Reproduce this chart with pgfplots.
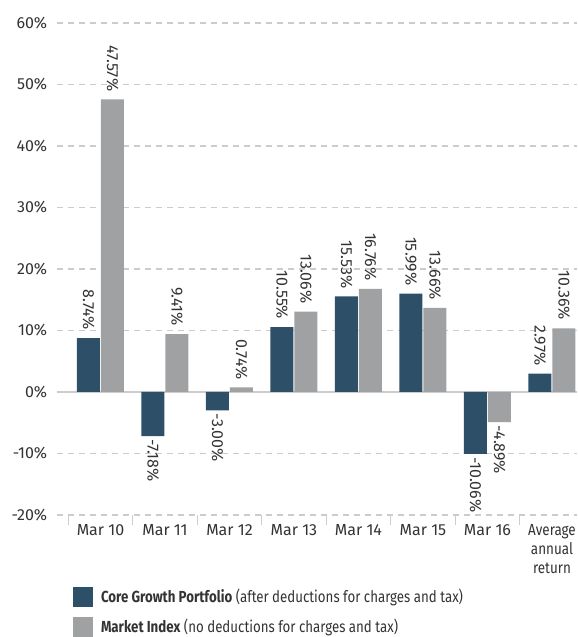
\documentclass[border=0pt]{standalone}
\usepackage{pgfplots}
\pgfplotsset{compat=1.18}
\usepackage{fontspec}
\setmainfont{Fira Sans}
\usepackage{graphicx}
\definecolor{dark}{HTML}{2D5068}
\definecolor{lite}{HTML}{A0A1A3}
\definecolor{txt}{HTML}{333333}
\definecolor{gridc}{HTML}{CCCCCC}
\begin{document}
\fontsize{16}{19}\selectfont
\begin{tikzpicture}
\begin{axis}[
  scale only axis, width=520pt, height=492pt,
  ybar, bar width=23pt,
  xmin=-0.674, xmax=7.388, ymin=-20, ymax=60,
  axis lines*=left, axis line style={draw=none},
  xtick={0,...,7},
  xticklabels={Mar 10,Mar 11,Mar 12,Mar 13,Mar 14,Mar 15,Mar 16,{\scalebox{0.84}[1]{Average}\\\scalebox{0.84}[1]{annual}\\\scalebox{0.84}[1]{return}}},
  xticklabel style={align=center, text=txt, font=\fontsize{16}{19}\selectfont},
  yticklabel style={text=txt, font=\fontsize{16}{19}\selectfont},
  major x tick style={draw=none},
  minor xtick={-0.5,0.5,...,6.5},
  minor x tick style={gridc, line width=1.2pt},
  minor tick length=10pt, tick align=outside,
  ytick={-20,-10,...,60},
  yticklabels={-20\%,-10\%,0\%,10\%,20\%,30\%,40\%,50\%,60\%},
  major y tick style={draw=none},
  ymajorgrids, grid style={gridc, dash pattern=on 6pt off 5pt, line width=1.2pt},
  extra y ticks={0}, extra y tick labels={},
  extra y tick style={grid style={solid, gridc, line width=1.2pt}, major tick style={draw=none}},
  point meta=explicit symbolic,
  nodes near coords,
  visualization depends on={rawy \as \rawy},
  every node near coord/.append style={rotate=-90, text=txt, font=\fontsize{16}{19}\selectfont, inner ysep=0pt},
  every node near coord/.append code={\ifdim\rawy pt<0pt\relax\pgfkeysalso{anchor=west, inner xsep=3pt}\else\pgfkeysalso{anchor=east, inner xsep=8pt}\fi},
  legend image code/.code={\fill[#1,draw=none] (0pt,-10pt) rectangle (20pt,10pt);},
  legend style={at={(0.0308,-0.1463)}, anchor=north west, draw=none, fill=none,
    inner sep=0pt, outer sep=0pt, row sep=10pt, column sep=8pt,
    nodes={inner sep=0pt, text=txt, font=\fontsize{16}{19}\selectfont}},
  legend cell align=left,
]
\addplot[fill=dark, draw=none, bar shift=-12pt] coordinates {
  (0,8.74) [8.74\%]
  (1,-7.18) [-7.18\%]
  (2,-3.00) [-3.00\%]
  (3,10.55) [10.55\%]
  (4,15.53) [15.53\%]
  (5,15.99) [15.99\%]
  (6,-10.06) [-10.06\%]
  (7,2.97) [2.97\%]
};
\addplot[fill=lite, draw=none, bar shift=12pt] coordinates {
  (0,47.57) [47.57\%]
  (1,9.41) [9.41\%]
  (2,0.74) [0.74\%]
  (3,13.06) [13.06\%]
  (4,16.76) [16.76\%]
  (5,13.66) [13.66\%]
  (6,-4.89) [-4.89\%]
  (7,10.36) [10.36\%]
};
\legend{\scalebox{0.83}[1]{\textbf{Core Growth Portfolio} (after deductions for charges and tax)},
        \scalebox{0.83}[1]{\textbf{Market Index} (no deductions for charges and tax)}}
\end{axis}
\pgfresetboundingbox
\path ([shift={(-57pt,23pt)}]current axis.north west) rectangle ([shift={(0pt,-122pt)}]current axis.south east);
\end{tikzpicture}
\end{document}
